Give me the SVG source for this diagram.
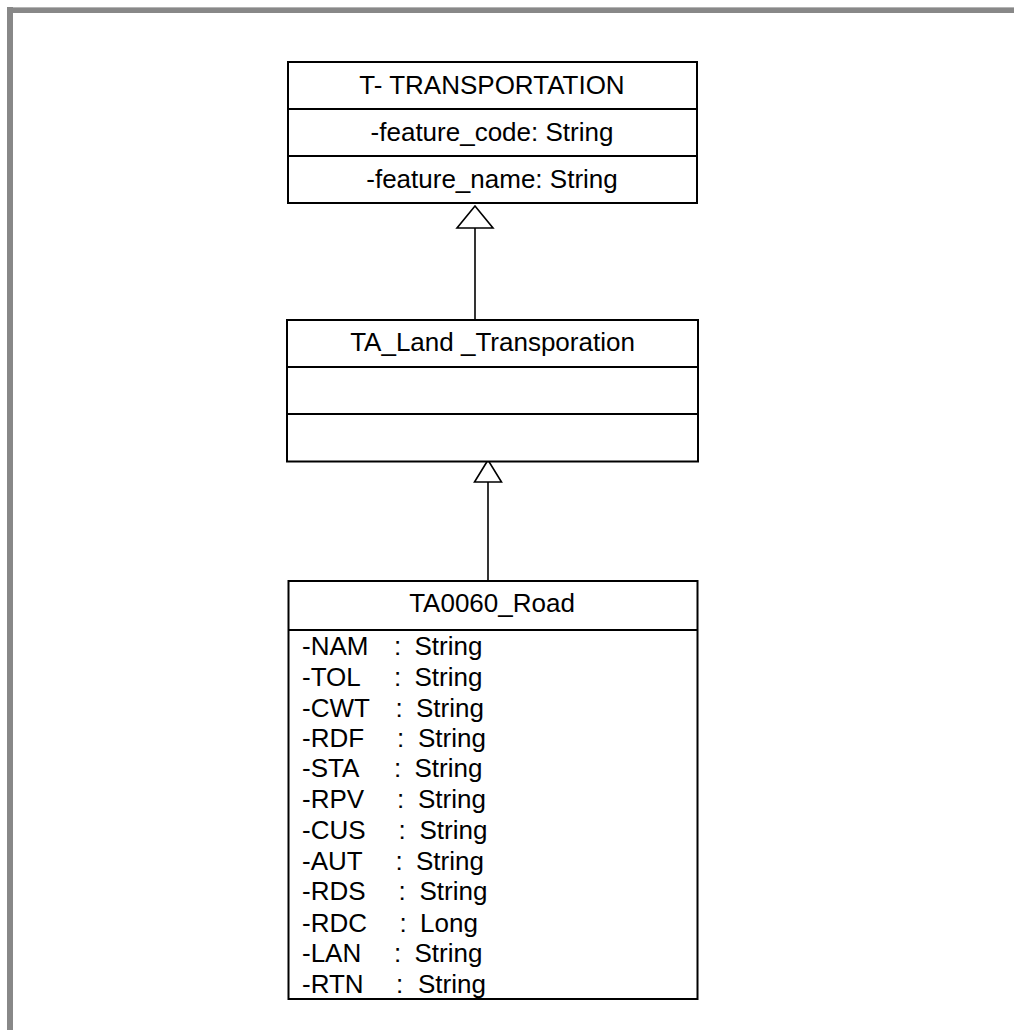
<svg xmlns="http://www.w3.org/2000/svg" width="1014" height="1030" viewBox="0 0 1014 1030">
<defs>
<style>
.box{fill:#fff;stroke:#000;stroke-width:2}
.div{stroke:#000;stroke-width:2}
.t{font-family:"Liberation Sans",Arial,sans-serif;font-size:26px;fill:#000}
.c{text-anchor:middle}
.conn{stroke:#000;stroke-width:1.6;fill:none}
.tri{fill:#fff;stroke:#000;stroke-width:1.6}
</style>
</defs>
<rect width="1014" height="1030" fill="#fff"/>
<rect x="7" y="7" width="1007" height="6" fill="#888"/>
<rect x="7" y="7" width="1007" height="1" fill="#b4b4b4"/>
<rect x="7" y="7" width="6" height="1023" fill="#888"/>

<g id="connectors">
<line class="conn" x1="475" y1="228" x2="475" y2="320"/>
<polygon class="tri" points="475,206 457,228 493,228"/>
<line class="conn" x1="488" y1="482" x2="488" y2="581"/>
<polygon class="tri" points="488,460 474.5,482 501.5,482"/>
</g>

<g id="T_TRANSPORTATION">
<rect class="box" x="288" y="62" width="409" height="141"/>
<line class="div" x1="288" y1="109" x2="697" y2="109"/>
<line class="div" x1="288" y1="156" x2="697" y2="156"/>
<text class="t c" x="492" y="93.5">T- TRANSPORTATION</text>
<text class="t c" x="492" y="141">-feature_code: String</text>
<text class="t c" x="492" y="188">-feature_name: String</text>
</g>

<g id="TA_Land_Transporation">
<rect class="box" x="287" y="320" width="411" height="141.5"/>
<line class="div" x1="287" y1="367" x2="698" y2="367"/>
<line class="div" x1="287" y1="414" x2="698" y2="414"/>
<text class="t c" x="492.5" y="350.5">TA_Land _Transporation</text>
</g>

<g id="TA0060_Road">
<rect class="box" x="288.5" y="581" width="409" height="418"/>
<line class="div" x1="288.5" y1="630" x2="697.5" y2="630"/>
<text class="t c" x="492" y="611.5">TA0060_Road</text>
<text class="t" y="655"><tspan x="302">-NAM</tspan><tspan x="394">:</tspan><tspan x="414.5">String</tspan></text>
<text class="t" y="685.5"><tspan x="302">-TOL</tspan><tspan x="394">:</tspan><tspan x="414.5">String</tspan></text>
<text class="t" y="716.5"><tspan x="302">-CWT</tspan><tspan x="395.5">:</tspan><tspan x="416">String</tspan></text>
<text class="t" y="746.5"><tspan x="302">-RDF</tspan><tspan x="397">:</tspan><tspan x="418">String</tspan></text>
<text class="t" y="777"><tspan x="302">-STA</tspan><tspan x="394">:</tspan><tspan x="414.5">String</tspan></text>
<text class="t" y="808"><tspan x="302">-RPV</tspan><tspan x="397">:</tspan><tspan x="418">String</tspan></text>
<text class="t" y="838.5"><tspan x="302">-CUS</tspan><tspan x="398.5">:</tspan><tspan x="419.5">String</tspan></text>
<text class="t" y="869.5"><tspan x="302">-AUT</tspan><tspan x="395.5">:</tspan><tspan x="416">String</tspan></text>
<text class="t" y="900"><tspan x="302">-RDS</tspan><tspan x="398.5">:</tspan><tspan x="419.5">String</tspan></text>
<text class="t" y="931.5"><tspan x="302">-RDC</tspan><tspan x="399.5">:</tspan><tspan x="420">Long</tspan></text>
<text class="t" y="962"><tspan x="302">-LAN</tspan><tspan x="394">:</tspan><tspan x="414.5">String</tspan></text>
<text class="t" y="992.5"><tspan x="302">-RTN</tspan><tspan x="396">:</tspan><tspan x="418">String</tspan></text>
</g>
</svg>
